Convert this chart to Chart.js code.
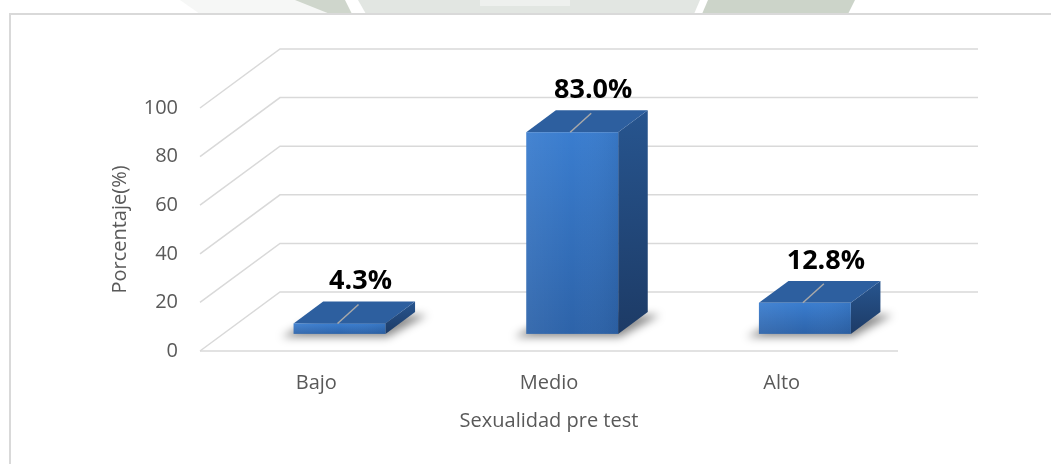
<!DOCTYPE html>
<html>
<head>
<meta charset="utf-8">
<script src="https://cdn.jsdelivr.net/npm/chart.js@4.4.1/dist/chart.umd.min.js"></script>
<style>
  html, body { margin: 0; padding: 0; background: #ffffff; }
  #wrap { width: 1051px; height: 464px; position: relative; }
  canvas { display: block; }
</style>
</head>
<body>
<div id="wrap"><canvas id="c" width="1051" height="464"></canvas></div>
<script>
// ---- data ----
const categories = ['Bajo', 'Medio', 'Alto'];
const percentValues = [4.3, 83.0, 12.8];
const valueLabels = ['4.3%', '83.0%', '12.8%'];
const yTicks = [0, 20, 40, 60, 80, 100];
const xAxisTitle = 'Sexualidad pre test';
const yAxisTitle = 'Porcentaje(%)';

// ---- styling constants ----
const FONT = "'Open Sans', 'DejaVu Sans', sans-serif";
const GRID = '#d9d9d9';
const TEXT = '#595959';
const DEPTH = { dx: 80, dy: -59 };      // full floor depth offset
const BAR_FRONT = 0.29, BAR_BACK = 0.66; // bar position within depth

const backgroundPlugin = {
  id: 'bg3d',
  beforeDraw(chart) {
    const ctx = chart.ctx;
    const { left, right } = chart.chartArea;
    const y = chart.scales.y;
    ctx.save();
    ctx.fillStyle = '#ffffff';
    ctx.fillRect(0, 0, chart.width, chart.height);
    // faint watermark above the frame
    const poly = (pts, col) => {
      ctx.beginPath();
      pts.forEach((p, i) => i ? ctx.lineTo(p[0], p[1]) : ctx.moveTo(p[0], p[1]));
      ctx.closePath(); ctx.fillStyle = col; ctx.fill();
    };
    poly([[180,0],[300,0],[330,14],[200,14]], '#f6f7f6');
    poly([[295,0],[345,0],[352,14],[330,14]], '#cfd6cc');
    poly([[358,0],[700,0],[694,14],[366,14]], '#e2e6e2');
    poly([[480,0],[570,0],[570,6],[480,6]], '#eef0ee');
    poly([[708,0],[855,0],[848,14],[702,14]], '#ccd4c9');
    // frame
    ctx.strokeStyle = GRID;
    ctx.lineWidth = 2;
    ctx.fillStyle = '#ffffff';
    ctx.fillRect(10, 14, chart.width, chart.height);
    ctx.strokeRect(10, 14, chart.width + 20, chart.height + 20);
    // back wall gridlines + side diagonals
    ctx.lineWidth = 1.5;
    ctx.strokeStyle = GRID;
    yTicks.forEach(v => {
      const py = y.getPixelForValue(v);
      ctx.beginPath();
      ctx.moveTo(left, py);
      ctx.lineTo(left + DEPTH.dx, py + DEPTH.dy);
      ctx.lineTo(right + DEPTH.dx, py + DEPTH.dy);
      ctx.stroke();
    });
    // front floor edge
    const p0 = y.getPixelForValue(0);
    ctx.beginPath();
    ctx.moveTo(left, p0);
    ctx.lineTo(right, p0);
    ctx.stroke();
    ctx.restore();
  }
};

const bars3dPlugin = {
  id: 'bars3d',
  afterDatasetsDraw(chart) {
    const ctx = chart.ctx;
    const meta = chart.getDatasetMeta(0);
    const fdx = BAR_FRONT * DEPTH.dx, fdy = BAR_FRONT * DEPTH.dy;
    const ddx = (BAR_BACK - BAR_FRONT) * DEPTH.dx, ddy = (BAR_BACK - BAR_FRONT) * DEPTH.dy;
    meta.data.forEach((el, i) => {
      const w = el.width;
      const x0 = el.x - w / 2 + fdx, x1 = x0 + w;
      const yB = el.base + fdy, yT = el.y + fdy;
      ctx.save();
      // shadow
      ctx.filter = 'blur(4px)';
      ctx.beginPath();
      ctx.moveTo(x0 - 12, yB + 3);
      ctx.lineTo(x1 + 2, yB + 3);
      ctx.lineTo(x1 + ddx + 12, yB + ddy + 3);
      ctx.lineTo(x0 + ddx, yB + ddy + 2);
      ctx.closePath();
      ctx.fillStyle = 'rgba(0,0,0,0.45)';
      ctx.fill();
      ctx.filter = 'none';
      // side face
      let g = ctx.createLinearGradient(0, yT + ddy, 0, yB);
      g.addColorStop(0, '#27558f');
      g.addColorStop(1, '#1d3b66');
      ctx.beginPath();
      ctx.moveTo(x1, yT); ctx.lineTo(x1 + ddx, yT + ddy);
      ctx.lineTo(x1 + ddx, yB + ddy); ctx.lineTo(x1, yB);
      ctx.closePath(); ctx.fillStyle = g; ctx.fill();
      // top face
      ctx.beginPath();
      ctx.moveTo(x0, yT); ctx.lineTo(x1, yT);
      ctx.lineTo(x1 + ddx, yT + ddy); ctx.lineTo(x0 + ddx, yT + ddy);
      ctx.closePath(); ctx.fillStyle = '#2d5f9f'; ctx.fill();
      // front face
      g = ctx.createLinearGradient(0, yT, 0, yB);
      g.addColorStop(0, '#3a7dcf');
      g.addColorStop(1, '#2d63a9');
      ctx.fillStyle = g;
      ctx.fillRect(x0, yT, w, yB - yT);
      const gh = ctx.createLinearGradient(x0, 0, x1, 0);
      gh.addColorStop(0, 'rgba(255,255,255,0.06)');
      gh.addColorStop(0.5, 'rgba(255,255,255,0)');
      gh.addColorStop(1, 'rgba(0,0,0,0.06)');
      ctx.fillStyle = gh;
      ctx.fillRect(x0, yT, w, yB - yT);
      // faint line on top face
      const cx = x0 + w / 2;
      ctx.strokeStyle = '#a9a9a9';
      ctx.lineWidth = 1.5;
      ctx.beginPath();
      ctx.moveTo(cx - 2, yT);
      ctx.lineTo(cx + 19, yT - 19);
      ctx.stroke();
      // value label
      ctx.fillStyle = '#000000';
      ctx.font = "bold 27px " + FONT;
      ctx.textAlign = 'center';
      ctx.textBaseline = 'middle';
      ctx.fillText(valueLabels[i], cx + 21, yT + ddy - 20);
      ctx.restore();
    });
  }
};

function build() {
  new Chart(document.getElementById('c'), {
    type: 'bar',
    data: {
      labels: categories,
      datasets: [{
        data: percentValues,
        backgroundColor: 'rgba(0,0,0,0)',
        borderWidth: 0,
        barPercentage: 0.395,
        categoryPercentage: 1.0
      }]
    },
    options: {
      responsive: false,
      animation: false,
      devicePixelRatio: 1,
      layout: { padding: { left: 100, right: 153, top: 108, bottom: 0 } },
      plugins: { legend: { display: false }, tooltip: { enabled: false } },
      scales: {
        y: {
          min: 0, max: 100,
          ticks: { stepSize: 20, color: TEXT, padding: 22, font: { family: FONT, size: 20 } },
          grid: { display: false, drawTicks: false },
          border: { display: false },
          title: { display: true, text: yAxisTitle, color: TEXT, font: { family: FONT, size: 20 }, padding: { top: 8, bottom: 0 } },
          afterFit(s) { s.width = 100; }
        },
        x: {
          ticks: { color: TEXT, padding: 20, font: { family: FONT, size: 20 } },
          grid: { display: false, drawTicks: false },
          border: { display: false },
          title: { display: true, text: xAxisTitle, color: TEXT, font: { family: FONT, size: 20 }, padding: { top: 0, bottom: 31 } },
          afterFit(s) { s.height = 113; }
        }
      }
    },
    plugins: [backgroundPlugin, bars3dPlugin]
  });
}
Promise.all([
  document.fonts.load("20px 'Open Sans'"),
  document.fonts.load("bold 27px 'Open Sans'")
]).then(build, build);
</script>
</body>
</html>
